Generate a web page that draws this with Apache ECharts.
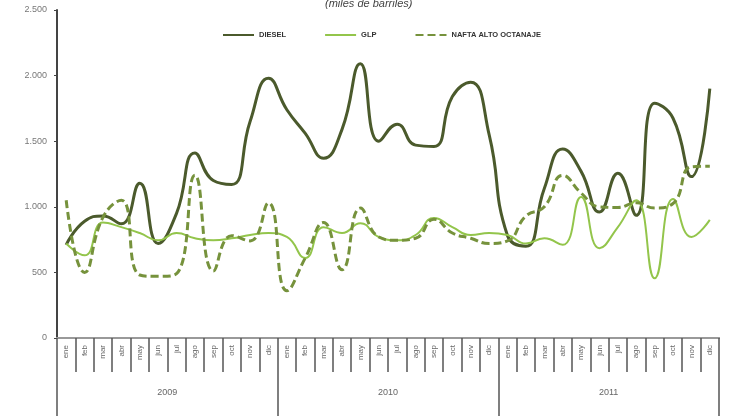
<!DOCTYPE html>
<html><head><meta charset="utf-8">
<script src="https://cdn.jsdelivr.net/npm/echarts@6/dist/echarts.min.js"></script>
<style>html,body{margin:0;padding:0;background:#fff}#c{width:739px;height:416px}</style>
</head><body><div id="c"></div>
<script>
const months = ['ene','feb','mar','abr','may','jun','jul','ago','sep','oct','nov','dic'];
const years = ['2009','2010','2011'];
const categories = [].concat(months, months, months);
const diesel = [710,890,930,870,1180,720,950,1410,1200,1170,1650,1980,
                1740,1560,1370,1590,2090,1500,1630,1470,1460,1840,1950,1550,
                780,700,1140,1440,1270,960,1255,935,1790,1675,1230,1900];
const glp = [720,630,880,845,800,745,800,760,745,760,785,800,
             770,610,845,800,875,770,745,785,915,845,785,800,
             785,720,760,710,1075,685,845,1050,455,1060,770,900];
const nafta = [1050,500,920,1050,480,470,490,1240,510,780,740,1030,
               360,610,880,520,990,770,745,760,905,800,760,720,
               740,930,1000,1240,1105,1000,995,1030,990,1025,1305,1310];

const chart = echarts.init(document.getElementById('c'));
const fmt = v => String(v).replace(/\B(?=(\d{3})+(?!\d))/g, '.');
chart.setOption({
  backgroundColor:'#fff',
  animation:false,
  title:{text:'(miles de barriles)', left:320, top:-7,
    textStyle:{fontSize:11, fontStyle:'italic', fontWeight:'normal', color:'#444', fontFamily:'Liberation Sans'}},
  legend:{top:26, left:217, itemWidth:31, itemHeight:10, itemGap:38,
    itemStyle:{opacity:0},
    textStyle:{fontSize:7.5, fontWeight:'bold', color:'#333', fontFamily:'Liberation Sans'},
    data:['DIESEL','GLP','NAFTA ALTO OCTANAJE']},
  grid:{left:57, right:20, top:10, bottom:78, containLabel:false},
  xAxis:[{
    type:'category', data:categories, boundaryGap:true, position:'bottom',
    axisLine:{show:true, lineStyle:{color:'#999', width:2}},
    axisTick:{show:true, interval:0, length:34, lineStyle:{color:'#555', width:1.5}},
    axisLabel:{interval:0, rotate:90, fontSize:8, color:'#666', margin:7, fontFamily:'Liberation Sans'}
  },{
    type:'category', data:years, boundaryGap:true, position:'bottom',
    axisLine:{show:true, lineStyle:{color:'#999', width:2}},
    axisTick:{show:true, interval:0, length:80, lineStyle:{color:'#555', width:1.5}},
    axisLabel:{fontSize:9, color:'#666', margin:50, fontFamily:'Liberation Sans'}
  }],
  yAxis:{type:'value', min:0, max:2500, interval:500,
    axisLine:{show:true, lineStyle:{color:'#444', width:2}},
    axisTick:{show:true, length:3, lineStyle:{color:'#444'}},
    splitLine:{show:false},
    axisLabel:{fontSize:9, color:'#777', margin:10, formatter:fmt, fontFamily:'Liberation Sans'}
  },
  series:[
    {name:'DIESEL', type:'line', data:diesel, smooth:0.5, symbol:'none',
      lineStyle:{color:'#4b5a2c', width:3}, itemStyle:{color:'#4b5a2c'}},
    {name:'GLP', type:'line', data:glp, smooth:0.5, symbol:'none',
      lineStyle:{color:'#93c54b', width:2}, itemStyle:{color:'#93c54b'}},
    {name:'NAFTA ALTO OCTANAJE', type:'line', data:nafta, smooth:0.5, symbol:'none',
      lineStyle:{color:'#76923c', width:3, type:[8,4]}, itemStyle:{color:'#76923c'}}
  ]
});
</script></body></html>
